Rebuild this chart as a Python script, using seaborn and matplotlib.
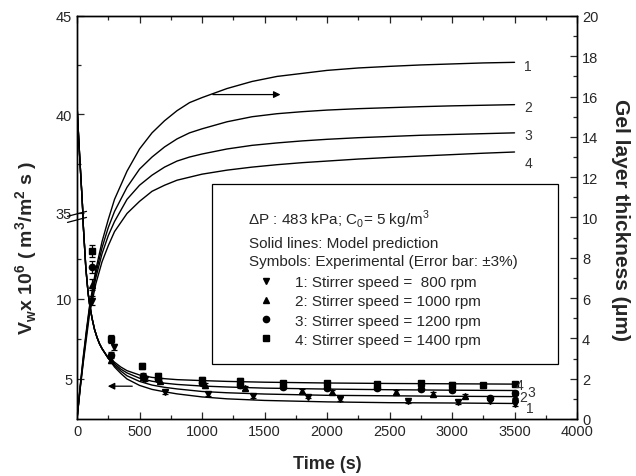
import numpy as np
import pandas as pd
import seaborn as sns
import matplotlib.pyplot as plt
from matplotlib.lines import Line2D
from matplotlib.patches import Rectangle

sns.set_theme(style="ticks")
plt.rcParams["font.family"] = ["Liberation Sans", "DejaVu Sans"]
plt.rcParams["mathtext.fontset"] = "custom"
plt.rcParams["mathtext.rm"] = "Liberation Sans"
plt.rcParams["mathtext.bf"] = "Liberation Sans:bold"
plt.rcParams["xtick.direction"] = "in"
plt.rcParams["ytick.direction"] = "in"

# model curves: permeate flux (left axis)
t_flux = [0, 10, 20, 30, 40, 45, 50, 60, 70, 80, 90, 100, 120, 140, 160, 180, 200, 250,
          300, 350, 400, 500, 600, 700, 800, 1000, 1200, 1500, 2000, 2500, 3000, 3500]
flux_start = [40.5, 39.2, 38.0, 36.9, 35.8, 35.2, 14.6, 13.3, 12.0, 11.1, 10.3, 9.7,
              8.8, 8.1, 7.6, 7.2, 6.9, 6.3]
flux_1 = flux_start + [5.75, 5.35, 5.0, 4.6, 4.35, 4.2, 4.07, 3.88, 3.76, 3.66, 3.57, 3.52, 3.5, 3.47]
flux_2 = flux_start + [5.85, 5.5, 5.2, 4.85, 4.62, 4.48, 4.38, 4.22, 4.14, 4.06, 3.98, 3.95, 3.92, 3.9]
flux_3 = flux_start + [5.95, 5.62, 5.38, 5.05, 4.86, 4.74, 4.66, 4.56, 4.5, 4.43, 4.37, 4.33, 4.3, 4.28]
flux_4 = flux_start + [6.05, 5.75, 5.52, 5.25, 5.1, 5.02, 4.96, 4.9, 4.85, 4.8, 4.75, 4.72, 4.7, 4.68]

# model curves: gel layer thickness (right axis)
t_gel = [0, 25, 50, 75, 100, 150, 200, 250, 300, 400, 500, 600, 700, 800, 900, 1000,
         1200, 1400, 1600, 1800, 2000, 2250, 2500, 2750, 3000, 3250, 3500]
gel_1 = [0, 1.6, 3.1, 4.4, 5.6, 7.4, 8.8, 9.9, 10.9, 12.3, 13.4, 14.2, 14.8, 15.3, 15.7, 15.95,
         16.4, 16.75, 17.0, 17.15, 17.3, 17.42, 17.5, 17.57, 17.62, 17.67, 17.7]
gel_2 = [0, 1.6, 3.0, 4.3, 5.5, 7.2, 8.5, 9.5, 10.3, 11.5, 12.4, 13.0, 13.5, 13.9, 14.2, 14.4,
         14.75, 15.0, 15.15, 15.25, 15.33, 15.4, 15.45, 15.5, 15.54, 15.57, 15.6]
gel_3 = [0, 1.5, 2.9, 4.2, 5.4, 7.0, 8.2, 9.1, 9.8, 10.9, 11.6, 12.1, 12.5, 12.8, 13.0, 13.15,
         13.4, 13.58, 13.7, 13.8, 13.88, 13.96, 14.02, 14.08, 14.12, 14.16, 14.2]
gel_4 = [0, 1.5, 2.8, 4.0, 5.2, 6.7, 7.8, 8.6, 9.3, 10.2, 10.8, 11.3, 11.6, 11.85, 12.0, 12.15,
         12.35, 12.5, 12.62, 12.72, 12.8, 12.9, 12.98, 13.05, 13.12, 13.19, 13.25]

# experimental flux
t_exp_1 = [120, 296, 540, 700, 1050, 1405, 1850, 2100, 2650, 3050, 3300, 3500]
v_exp_1 = [9.9, 7.0, 5.0, 4.2, 4.06, 3.95, 3.9, 3.75, 3.6, 3.56, 3.6, 3.44]
t_exp_2 = [120, 270, 530, 660, 1020, 1340, 1800, 2040, 2550, 2850, 3100, 3500]
v_exp_2 = [10.9, 6.2, 5.1, 4.9, 4.6, 4.45, 4.25, 4.2, 4.2, 4.06, 3.94, 3.9]
t_exp_3 = [120, 270, 530, 650, 1000, 1300, 1650, 2000, 2400, 2750, 3000, 3300, 3500]
v_exp_3 = [12.0, 6.5, 5.2, 5.0, 4.75, 4.6, 4.5, 4.45, 4.45, 4.35, 4.3, 3.8, 4.1]
t_exp_4 = [120, 270, 520, 650, 1000, 1300, 1650, 2000, 2400, 2750, 3000, 3250, 3500]
v_exp_4 = [13.0, 7.5, 5.8, 5.2, 4.95, 4.9, 4.75, 4.75, 4.7, 4.75, 4.65, 4.6, 4.7]

labels = ["1: Stirrer speed =  800 rpm", "2: Stirrer speed = 1000 rpm",
          "3: Stirrer speed = 1200 rpm", "4: Stirrer speed = 1400 rpm"]
markers = ["v", "^", "o", "s"]

flux_df = pd.concat([pd.DataFrame({"t": t_flux, "v": f, "run": i + 1})
                     for i, f in enumerate([flux_1, flux_2, flux_3, flux_4])])
gel_df = pd.concat([pd.DataFrame({"t": t_gel, "g": g, "run": i + 1})
                    for i, g in enumerate([gel_1, gel_2, gel_3, gel_4])])
exp_t = [t_exp_1, t_exp_2, t_exp_3, t_exp_4]
exp_v = [v_exp_1, v_exp_2, v_exp_3, v_exp_4]

# broken left axis: 2.5-15 and 35-45
bx = [-100, 2.5, 15, 35, 45, 200]
by = [-102.5 * 16, 0, 200, 206, 403, 403 + 155 * 19.7]


def fwd(v):
    return np.interp(v, bx, by)


def inv(y):
    return np.interp(y, by, bx)


fig = plt.figure(figsize=(6.36, 4.77), dpi=100)
ax = fig.add_axes([0.1211, 0.1195, 0.7862, 0.8449])
ax.set_yscale("function", functions=(fwd, inv))
ax2 = ax.twinx()

sns.lineplot(data=flux_df, x="t", y="v", units="run", estimator=None,
             color="black", lw=1.0, ax=ax)
sns.lineplot(data=gel_df, x="t", y="g", units="run", estimator=None,
             color="black", lw=1.0, ax=ax2)

for tt, vv, m in zip(exp_t, exp_v, markers):
    vv = np.array(vv)
    ax.errorbar(tt, vv, yerr=0.03 * vv, fmt=m, color="black", ms=4.5,
                elinewidth=0.9, capsize=2.5, capthick=0.9)

ax.set_xlim(0, 4000)
ax.set_ylim(2.5, 45)
ax2.set_ylim(0, 20)
ax.set_xticks(np.arange(0, 4001, 500))
ax.set_xticks(np.arange(250, 4000, 500), minor=True)
ax.set_yticks([5, 10, 35, 40, 45])
ax.set_yticks([7.5, 12.5, 37.5, 42.5], minor=True)
ax2.set_yticks(np.arange(0, 21, 2))
ax2.set_yticks(np.arange(1, 20, 2), minor=True)
ax.tick_params(which="both", top=True, labelsize=10.5, width=0.9)
ax.tick_params(which="major", length=5)
ax.tick_params(which="minor", length=3)
ax2.tick_params(which="both", labelsize=10.5, width=0.9)
ax2.tick_params(which="major", length=5)
ax2.tick_params(which="minor", length=3)
for a in (ax, ax2):
    for s in a.spines.values():
        s.set_linewidth(1.0)
        s.set_color("black")

ax.set_xlabel("Time (s)", fontsize=13, fontweight="bold", labelpad=12)
ax.set_ylabel(r"V$_\mathbf{w}$x 10$^\mathbf{6}$ ( m$^\mathbf{3}$/m$^\mathbf{2}$ s )",
              fontsize=14, fontweight="bold", va="center")
ax.yaxis.set_label_coords(-0.10, 0.427)
ax2.set_ylabel("Gel layer thickness (μm)", fontsize=15, fontweight="bold",
               rotation=270, va="center")
ax2.yaxis.set_label_coords(1.086, 0.496)

# axis break marks
for yc in (0.509, 0.494):
    ax.plot([-0.019, 0.019], [yc - 0.0062, yc + 0.0062], color="black", lw=0.9,
            transform=ax.transAxes, clip_on=False)

# arrows
ax.annotate("", xy=(224, 4.55), xytext=(464, 4.55),
            arrowprops=dict(arrowstyle="-|>", color="black", lw=0.9,
                            mutation_scale=10))
ax2.annotate("", xy=(1650, 16.1), xytext=(1064, 16.1),
             arrowprops=dict(arrowstyle="-|>", color="black", lw=0.9,
                             mutation_scale=10))

# curve numbers
for txt, g in zip(["1", "2", "3", "4"], [17.5, 15.5, 14.1, 12.7]):
    ax2.text(3610, g, txt, fontsize=10, color="#333333", va="center", ha="center")
for txt, tx, vy in [("4", 3540, 4.6), ("2", 3570, 3.9), ("3", 3635, 4.18), ("1", 3620, 3.19)]:
    ax.text(tx, vy, txt, fontsize=10, color="#333333", va="center", ha="center")

# legend box
ax.add_patch(Rectangle((0.27, 0.1365), 0.692, 0.4467, transform=ax.transAxes,
                       fill=False, edgecolor="black", lw=0.9, zorder=5))
ax.text(0.342, 0.496, r"$\Delta$P : 483 kPa; C$_0$= 5 kg/m$^3$", transform=ax.transAxes,
        fontsize=11, va="center")
ax.text(0.344, 0.4367, "Solid lines: Model prediction", transform=ax.transAxes,
        fontsize=11, va="center")
ax.text(0.344, 0.392, "Symbols: Experimental (Error bar: ±3%)", transform=ax.transAxes,
        fontsize=11, va="center")
handles = [Line2D([], [], marker=m, ls="none", color="black", ms=4.5) for m in markers]
ax.legend(handles, labels, loc="upper left", bbox_to_anchor=(0.363, 0.357),
          frameon=False, fontsize=11, handlelength=1.0, handletextpad=1.4,
          labelspacing=0.34, borderpad=0, borderaxespad=0)

fig.savefig("out.png", dpi=100)
